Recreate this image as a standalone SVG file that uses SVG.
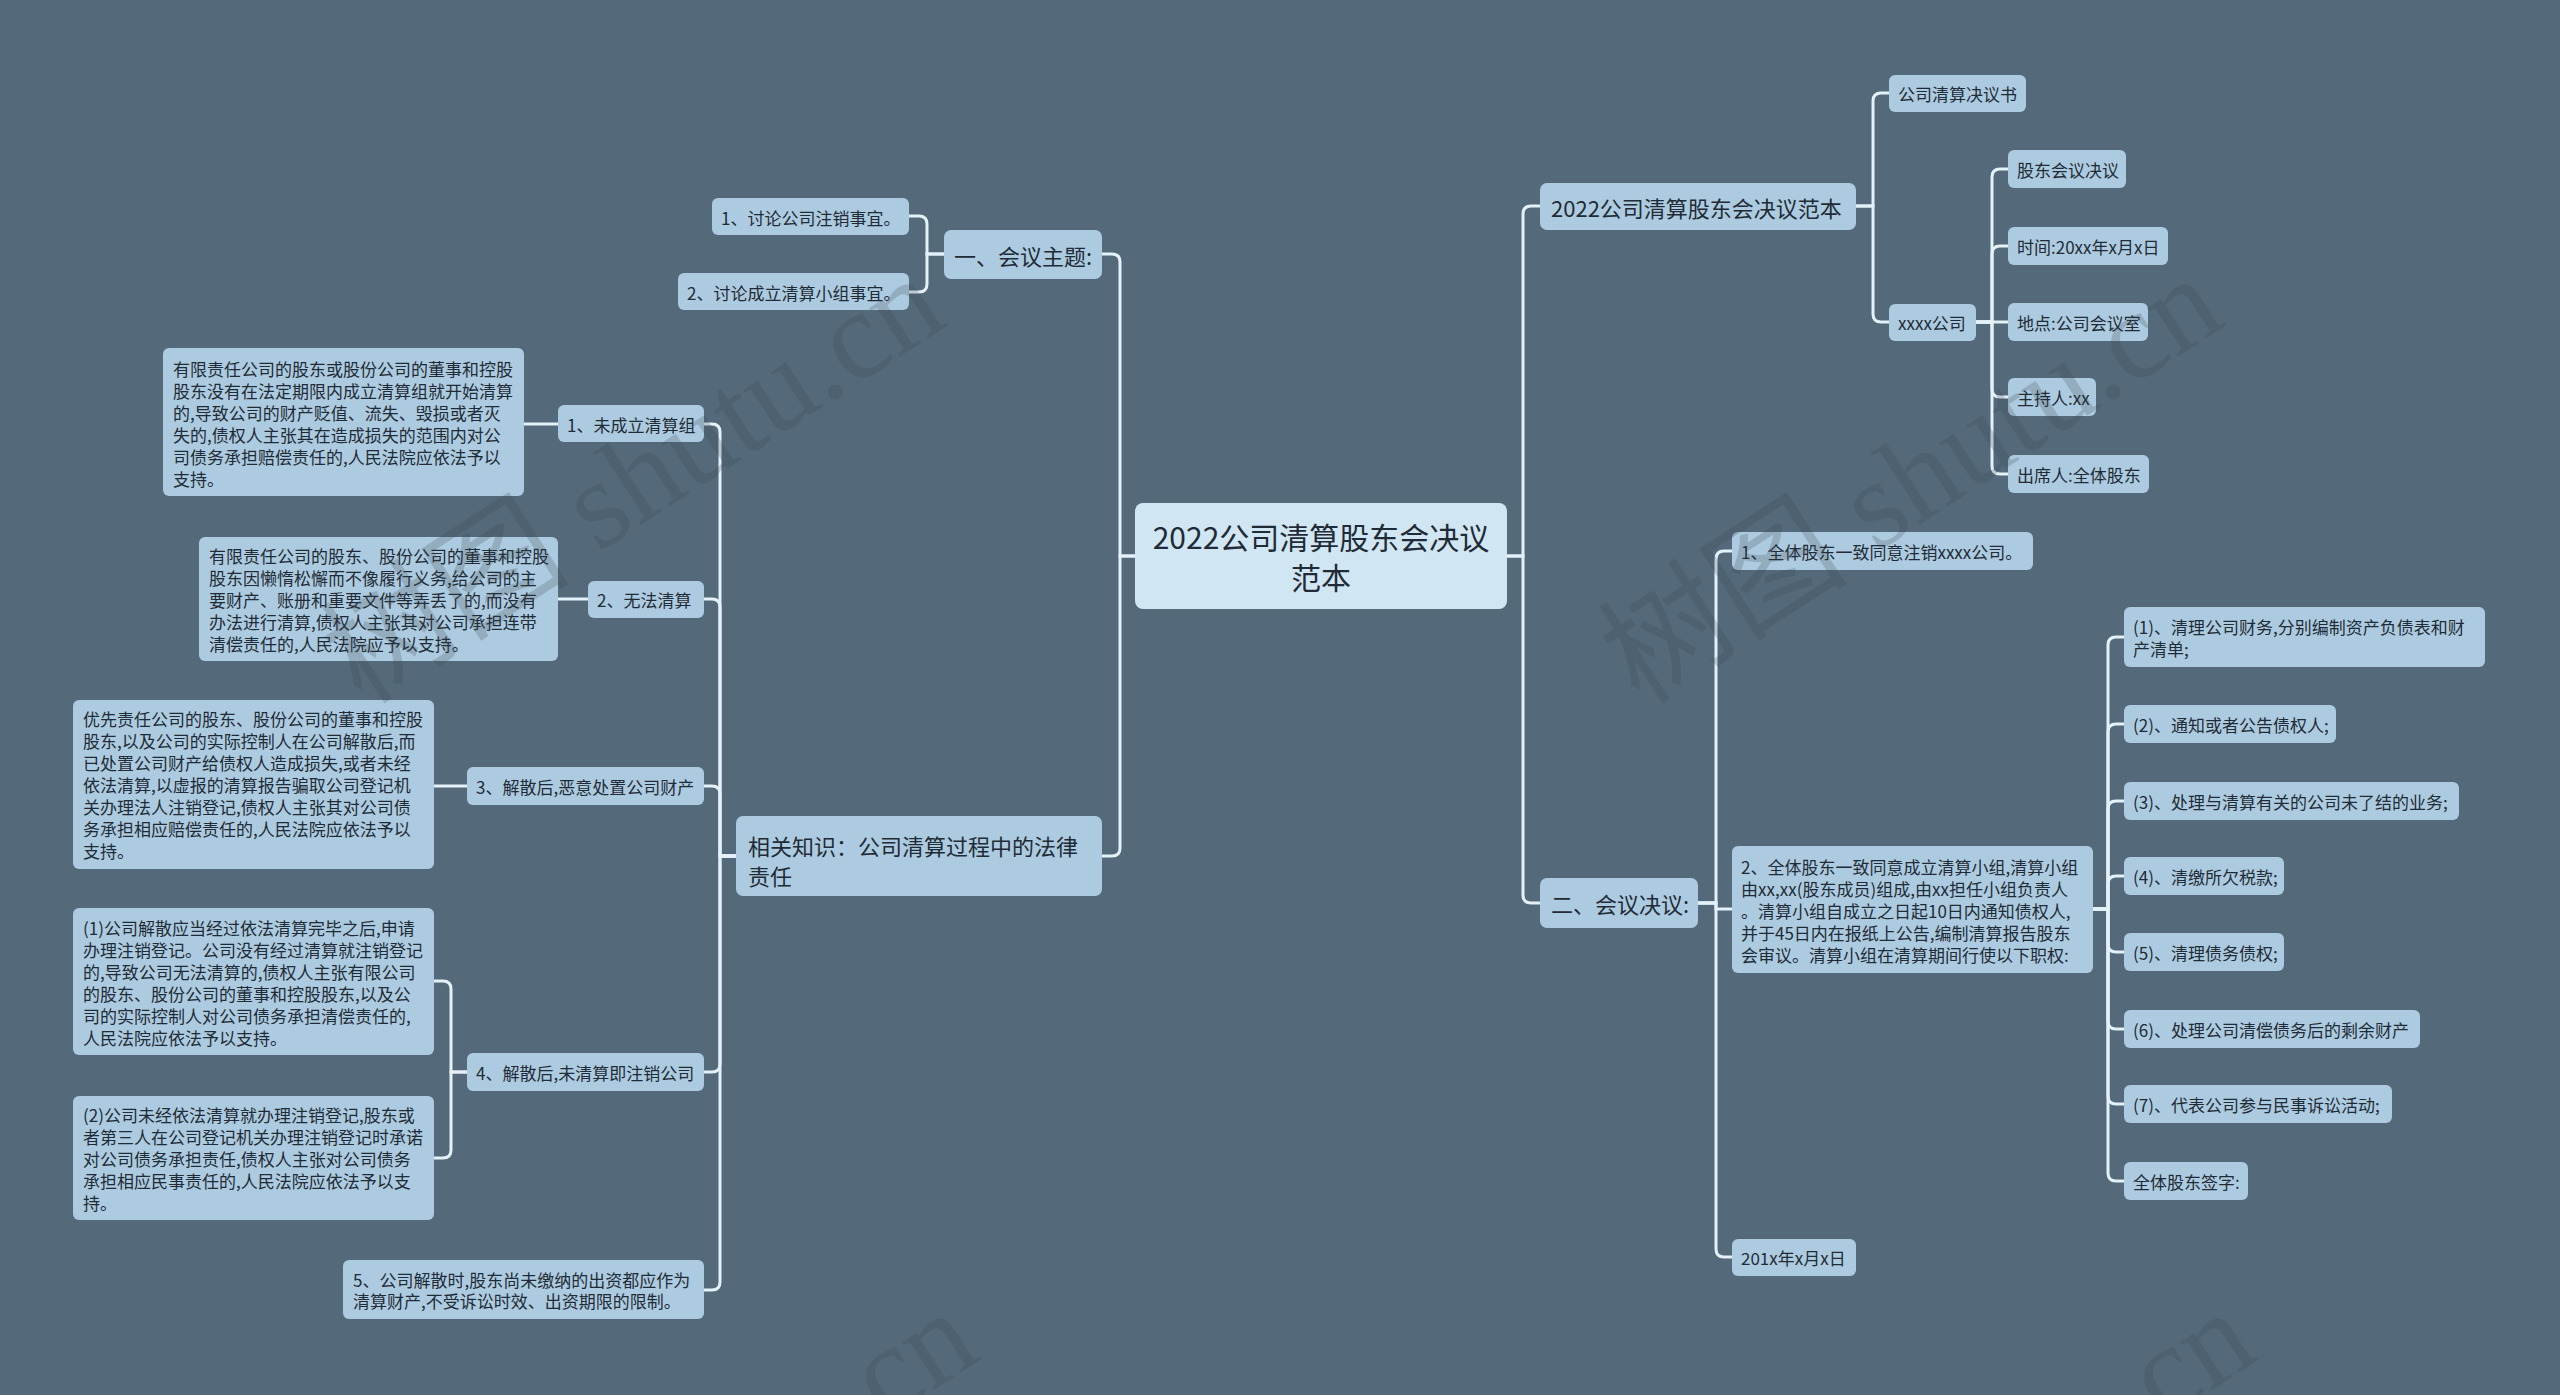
<svg xmlns="http://www.w3.org/2000/svg" width="2560" height="1395" viewBox="0 0 2560 1395">
<style>
.nd rect{fill:#adcbe0;}
.ct rect{fill:#d0e6f3;}
text{font-family:"Noto Sans CJK SC","Microsoft YaHei",sans-serif;fill:#1f2b36;dominant-baseline:central;}
.s{font-size:17px;}
.m{font-size:22px;}
.l{font-size:30px;}
.conn path{stroke:#e4f1f9;stroke-width:3;fill:none;stroke-linecap:round;}
.wm{font-family:"Liberation Serif","Noto Sans CJK SC",serif;font-size:125px;fill:#3a4650;opacity:0.22;dominant-baseline:alphabetic;}
</style>
<rect width="2560" height="1395" fill="#54697a"/>

<g id="connectors" class="conn">
<path d="M1135,556 H1120 V262 Q1120,254 1112,254 H1102"/>
<path d="M1135,556 H1120 V848 Q1120,856 1112,856 H1102"/>
<path d="M944,254 H927 V224 Q927,216 919,216 H909"/>
<path d="M944,254 H927 V284 Q927,292 919,292 H909"/>
<path d="M736,856 H720 V432 Q720,424 712,424 H704"/>
<path d="M736,856 H720 V607 Q720,599 712,599 H704"/>
<path d="M736,856 H720 V794 Q720,786 712,786 H704"/>
<path d="M736,856 H720 V1064 Q720,1072 712,1072 H704"/>
<path d="M736,856 H720 V1282 Q720,1290 712,1290 H704"/>
<path d="M558,424 H524"/>
<path d="M588,599 H558"/>
<path d="M467,786 H434"/>
<path d="M467,1072 H451 V989 Q451,981 443,981 H434"/>
<path d="M467,1072 H451 V1150 Q451,1158 443,1158 H434"/>
<path d="M1507,556 H1523 V214 Q1523,206 1531,206 H1540"/>
<path d="M1507,556 H1523 V895 Q1523,903 1531,903 H1540"/>
<path d="M1856,206 H1873 V101 Q1873,93 1881,93 H1889"/>
<path d="M1856,206 H1873 V314 Q1873,322 1881,322 H1889"/>
<path d="M1976,322 H1992 V177 Q1992,169 2000,169 H2008"/>
<path d="M1976,322 H1992 V254 Q1992,246 2000,246 H2008"/>
<path d="M1976,322 H2008"/>
<path d="M1976,322 H1992 V389 Q1992,397 2000,397 H2008"/>
<path d="M1976,322 H1992 V466 Q1992,474 2000,474 H2008"/>
<path d="M1698,903 H1716 V559 Q1716,551 1724,551 H1732"/>
<path d="M1698,903 H1716 V909 H1732"/>
<path d="M1698,903 H1716 V1249 Q1716,1257 1724,1257 H1732"/>
<path d="M2093,909 H2108 V645 Q2108,637 2116,637 H2124"/>
<path d="M2093,909 H2108 V732 Q2108,724 2116,724 H2124"/>
<path d="M2093,909 H2108 V809 Q2108,801 2116,801 H2124"/>
<path d="M2093,909 H2108 V884 Q2108,876 2116,876 H2124"/>
<path d="M2093,909 H2108 V944 Q2108,952 2116,952 H2124"/>
<path d="M2093,909 H2108 V1021 Q2108,1029 2116,1029 H2124"/>
<path d="M2093,909 H2108 V1096 Q2108,1104 2116,1104 H2124"/>
<path d="M2093,909 H2108 V1173 Q2108,1181 2116,1181 H2124"/>
</g>

<g id="center" class="ct"><rect x="1135" y="503" width="372" height="106" rx="8"/>
<text class="l" x="1321" y="536" text-anchor="middle">2022公司清算股东会决议</text>
<text class="l" x="1321" y="576" text-anchor="middle">范本</text></g>

<g id="topic1" class="nd"><rect x="944" y="230" width="158" height="49" rx="7"/><text class="m" x="954" y="255">一、会议主题:</text></g>
<g id="topic1-1" class="nd"><rect x="712" y="198" width="197" height="37" rx="6"/><text class="s" x="721" y="217">1、讨论公司注销事宜。</text></g>
<g id="topic1-2" class="nd"><rect x="678" y="273" width="231" height="37" rx="6"/><text class="s" x="687" y="292">2、讨论成立清算小组事宜。</text></g>

<g id="knowledge" class="nd"><rect x="736" y="816" width="366" height="80" rx="7"/>
<text class="m" x="748" y="845">相关知识：公司清算过程中的法律</text>
<text class="m" x="748" y="875">责任</text></g>

<g id="k1" class="nd"><rect x="558" y="405" width="146" height="37" rx="6"/><text class="s" x="567" y="424">1、未成立清算组</text></g>
<g id="k1-d" class="nd"><rect x="163" y="348" width="361" height="148" rx="6"/>
<text class="s" x="173" y="368">有限责任公司的股东或股份公司的董事和控股</text>
<text class="s" x="173" y="390">股东没有在法定期限内成立清算组就开始清算</text>
<text class="s" x="173" y="412">的,导致公司的财产贬值、流失、毁损或者灭</text>
<text class="s" x="173" y="434">失的,债权人主张其在造成损失的范围内对公</text>
<text class="s" x="173" y="456">司债务承担赔偿责任的,人民法院应依法予以</text>
<text class="s" x="173" y="478">支持。</text></g>

<g id="k2" class="nd"><rect x="588" y="581" width="116" height="37" rx="6"/><text class="s" x="597" y="599">2、无法清算</text></g>
<g id="k2-d" class="nd"><rect x="199" y="537" width="359" height="124" rx="6"/>
<text class="s" x="209" y="555">有限责任公司的股东、股份公司的董事和控股</text>
<text class="s" x="209" y="577">股东因懒惰松懈而不像履行义务,给公司的主</text>
<text class="s" x="209" y="599">要财产、账册和重要文件等弄丢了的,而没有</text>
<text class="s" x="209" y="621">办法进行清算,债权人主张其对公司承担连带</text>
<text class="s" x="209" y="643">清偿责任的,人民法院应予以支持。</text></g>

<g id="k3" class="nd"><rect x="467" y="767" width="237" height="38" rx="6"/><text class="s" x="476" y="786">3、解散后,恶意处置公司财产</text></g>
<g id="k3-d" class="nd"><rect x="73" y="700" width="361" height="169" rx="6"/>
<text class="s" x="83" y="718">优先责任公司的股东、股份公司的董事和控股</text>
<text class="s" x="83" y="740">股东,以及公司的实际控制人在公司解散后,而</text>
<text class="s" x="83" y="762">已处置公司财产给债权人造成损失,或者未经</text>
<text class="s" x="83" y="784">依法清算,以虚报的清算报告骗取公司登记机</text>
<text class="s" x="83" y="806">关办理法人注销登记,债权人主张其对公司债</text>
<text class="s" x="83" y="828">务承担相应赔偿责任的,人民法院应依法予以</text>
<text class="s" x="83" y="850">支持。</text></g>

<g id="k4" class="nd"><rect x="467" y="1053" width="237" height="38" rx="6"/><text class="s" x="476" y="1072">4、解散后,未清算即注销公司</text></g>
<g id="k4-d1" class="nd"><rect x="73" y="908" width="361" height="147" rx="6"/>
<text class="s" x="83" y="927">(1)公司解散应当经过依法清算完毕之后,申请</text>
<text class="s" x="83" y="949">办理注销登记。公司没有经过清算就注销登记</text>
<text class="s" x="83" y="971">的,导致公司无法清算的,债权人主张有限公司</text>
<text class="s" x="83" y="993">的股东、股份公司的董事和控股股东,以及公</text>
<text class="s" x="83" y="1015">司的实际控制人对公司债务承担清偿责任的,</text>
<text class="s" x="83" y="1037">人民法院应依法予以支持。</text></g>
<g id="k4-d2" class="nd"><rect x="73" y="1096" width="361" height="124" rx="6"/>
<text class="s" x="83" y="1114">(2)公司未经依法清算就办理注销登记,股东或</text>
<text class="s" x="83" y="1136">者第三人在公司登记机关办理注销登记时承诺</text>
<text class="s" x="83" y="1158">对公司债务承担责任,债权人主张对公司债务</text>
<text class="s" x="83" y="1180">承担相应民事责任的,人民法院应依法予以支</text>
<text class="s" x="83" y="1202">持。</text></g>

<g id="k5" class="nd"><rect x="343" y="1260" width="361" height="59" rx="6"/>
<text class="s" x="353" y="1279">5、公司解散时,股东尚未缴纳的出资都应作为</text>
<text class="s" x="353" y="1300">清算财产,不受诉讼时效、出资期限的限制。</text></g>

<g id="r1" class="nd"><rect x="1540" y="183" width="316" height="47" rx="7"/><text class="m" x="1551" y="207">2022公司清算股东会决议范本</text></g>
<g id="r1a" class="nd"><rect x="1889" y="75" width="137" height="37" rx="6"/><text class="s" x="1898" y="93">公司清算决议书</text></g>
<g id="r1b" class="nd"><rect x="1889" y="304" width="87" height="37" rx="6"/><text class="s" x="1898" y="322">xxxx公司</text></g>
<g id="r1b1" class="nd"><rect x="2008" y="150" width="118" height="38" rx="6"/><text class="s" x="2017" y="169">股东会议决议</text></g>
<g id="r1b2" class="nd"><rect x="2008" y="227" width="160" height="38" rx="6"/><text class="s" x="2017" y="246">时间:20xx年x月x日</text></g>
<g id="r1b3" class="nd"><rect x="2008" y="303" width="140" height="38" rx="6"/><text class="s" x="2017" y="322">地点:公司会议室</text></g>
<g id="r1b4" class="nd"><rect x="2008" y="378" width="88" height="38" rx="6"/><text class="s" x="2017" y="397">主持人:xx</text></g>
<g id="r1b5" class="nd"><rect x="2008" y="455" width="141" height="38" rx="6"/><text class="s" x="2017" y="474">出席人:全体股东</text></g>

<g id="r2" class="nd"><rect x="1540" y="878" width="158" height="50" rx="7"/><text class="m" x="1551" y="903">二、会议决议:</text></g>
<g id="r2a" class="nd"><rect x="1732" y="532" width="301" height="38" rx="6"/><text class="s" x="1741" y="551">1、全体股东一致同意注销xxxx公司。</text></g>
<g id="r2b" class="nd"><rect x="1732" y="846" width="361" height="127" rx="6"/>
<text class="s" x="1741" y="866">2、全体股东一致同意成立清算小组,清算小组</text>
<text class="s" x="1741" y="888">由xx,xx(股东成员)组成,由xx担任小组负责人</text>
<text class="s" x="1741" y="910">。清算小组自成立之日起10日内通知债权人,</text>
<text class="s" x="1741" y="932">并于45日内在报纸上公告,编制清算报告股东</text>
<text class="s" x="1741" y="954">会审议。清算小组在清算期间行使以下职权:</text></g>
<g id="r2c" class="nd"><rect x="1732" y="1239" width="124" height="37" rx="6"/><text class="s" x="1741" y="1257">201x年x月x日</text></g>

<g id="p1" class="nd"><rect x="2124" y="607" width="361" height="60" rx="6"/>
<text class="s" x="2133" y="626">(1)、清理公司财务,分别编制资产负债表和财</text>
<text class="s" x="2133" y="648">产清单;</text></g>
<g id="p2" class="nd"><rect x="2124" y="705" width="212" height="38" rx="6"/><text class="s" x="2133" y="724">(2)、通知或者公告债权人;</text></g>
<g id="p3" class="nd"><rect x="2124" y="782" width="335" height="38" rx="6"/><text class="s" x="2133" y="801">(3)、处理与清算有关的公司未了结的业务;</text></g>
<g id="p4" class="nd"><rect x="2124" y="857" width="160" height="38" rx="6"/><text class="s" x="2133" y="876">(4)、清缴所欠税款;</text></g>
<g id="p5" class="nd"><rect x="2124" y="933" width="160" height="38" rx="6"/><text class="s" x="2133" y="952">(5)、清理债务债权;</text></g>
<g id="p6" class="nd"><rect x="2124" y="1010" width="296" height="38" rx="6"/><text class="s" x="2133" y="1029">(6)、处理公司清偿债务后的剩余财产</text></g>
<g id="p7" class="nd"><rect x="2124" y="1085" width="268" height="38" rx="6"/><text class="s" x="2133" y="1104">(7)、代表公司参与民事诉讼活动;</text></g>
<g id="p8" class="nd"><rect x="2124" y="1162" width="124" height="38" rx="6"/><text class="s" x="2133" y="1181">全体股东签字:</text></g>

<g id="watermark">
<text class="wm" x="362" y="706" transform="rotate(-33 362 706)">树图 shutu.cn</text>
<text class="wm" x="1640" y="706" transform="rotate(-33 1640 706)">树图 shutu.cn</text>
<text class="wm" x="395" y="1740" transform="rotate(-33 395 1740)">树图 shutu.cn</text>
<text class="wm" x="1673" y="1740" transform="rotate(-33 1673 1740)">树图 shutu.cn</text>
</g>
</svg>
